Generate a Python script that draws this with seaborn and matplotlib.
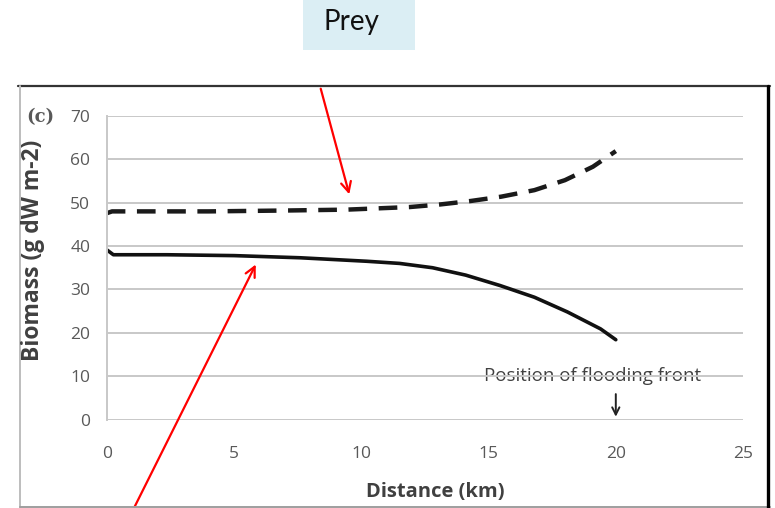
import numpy as np
import pandas as pd
import matplotlib
matplotlib.use("Agg")
import matplotlib.pyplot as plt
import seaborn as sns
from matplotlib.lines import Line2D
from matplotlib.patches import Rectangle, FancyArrowPatch

# ---- data ----
prey_x = [0, 0.2, 2, 4, 7, 9.4, 11.9, 13.1, 14.3, 15.5, 16.8, 18.0, 19.1, 20.0]
prey_y = [47.6, 48.0, 48.0, 48.0, 48.2, 48.4, 49.0, 49.6, 50.4, 51.4, 52.9, 55.2, 58.3, 61.9]
pred_x = [0, 0.25, 2.35, 5.0, 7.6, 10.2, 11.5, 12.8, 14.1, 15.45, 16.8, 18.1, 19.4, 20.0]
pred_y = [39.1, 38.0, 38.0, 37.8, 37.3, 36.5, 36.0, 35.0, 33.3, 30.9, 28.2, 24.8, 20.9, 18.4]
x_ticks = [0, 5, 10, 15, 20, 25]
y_ticks = [0, 10, 20, 30, 40, 50, 60, 70]

df = pd.concat([
    pd.DataFrame({"Distance": prey_x, "Biomass": prey_y, "series": "Prey"}),
    pd.DataFrame({"Distance": pred_x, "Biomass": pred_y, "series": "Predator"}),
])

sns.set_theme(style="white")
plt.rcParams["font.family"] = ["Open Sans", "DejaVu Sans"]

W, H = 775, 508
fig = plt.figure(figsize=(W / 100, H / 100), dpi=100)
ax = fig.add_axes([107 / W, 1 - 419.5 / H, (743 - 107) / W, (419.5 - 116) / H])

sns.lineplot(data=df, x="Distance", y="Biomass", style="series", hue="series",
             palette={"Prey": "#1a1a1a", "Predator": "#111111"},
             dashes={"Prey": (4.2, 2.6), "Predator": ""},
             size="series", sizes={"Prey": 3.2, "Predator": 2.6},
             legend=False, ax=ax, sort=False)
for ln in ax.get_lines():
    ln.set_solid_capstyle("round")
    ln.set_solid_joinstyle("round")
    ln.set_dash_capstyle("butt")

ax.set_xlim(0, 25)
ax.set_ylim(0, 70)
ax.set_xticks(x_ticks)
ax.set_yticks(y_ticks)
ax.yaxis.grid(True, color="#c8c8c8", lw=1.4)
ax.xaxis.grid(False)
ax.set_axisbelow(True)
for s in ["top", "right", "bottom"]:
    ax.spines[s].set_visible(False)
ax.spines["left"].set_color("#c8c8c8")
ax.spines["left"].set_linewidth(1.4)
ax.tick_params(axis="x", length=0, pad=19, labelsize=12.5, labelcolor="#595959")
ax.tick_params(axis="y", length=0, pad=12, labelsize=12.5, labelcolor="#595959")
ax.set_xlabel("")
ax.set_ylabel("")

# flooding-front annotation
ax.text(19.1, 10.0, "Position of flooding front", ha="center", va="center",
        fontsize=13.5, color="#404040", zorder=0)
ax.annotate("", xy=(20, 0.0), xytext=(20, 6.5),
            arrowprops=dict(arrowstyle="->", color="#222222", lw=1.4,
                            mutation_scale=13))

# axis titles and panel label
fig.text(435 / W, 1 - 492 / H, "Distance (km)", ha="center", va="center",
         fontsize=14.5, fontweight="bold", color="#404040")
fig.text(33 / W, 1 - 250 / H, "Biomass (g dW m-2)", ha="center", va="center",
         rotation=90, fontsize=16.5, fontweight="bold", color="#404040")
fig.text(40 / W, 1 - 117 / H, "(c)", ha="center", va="center",
         fontsize=13, fontweight="bold", color="#595959", family="DejaVu Serif")

# frame lines of the pasted figure
fig.add_artist(Line2D([18 / W, 770 / W], [1 - 86 / H, 1 - 86 / H], color="#333333", lw=1.6))
fig.add_artist(Line2D([20 / W, 20 / W], [1 - 86 / H, 0], color="#bdbdbd", lw=1.4))
fig.add_artist(Line2D([20 / W, 770 / W], [1 - 507 / H, 1 - 507 / H], color="#9e9e9e", lw=1.4))
fig.add_artist(Line2D([768 / W, 768 / W], [1 - 86 / H, 0], color="#000000", lw=2.4))

# Prey label box
fig.add_artist(Rectangle((303 / W, 1 - 50 / H), 112 / W, 50 / H,
                         transform=fig.transFigure, facecolor="#dbeef4", edgecolor="none"))
fig.text(351 / W, 1 - 22 / H, "Prey", ha="center", va="center", fontsize=20,
         color="#111111", family=["Lato", "DejaVu Sans"])

# red arrows
fig.add_artist(FancyArrowPatch(
    (320 / W, 1 - 86 / H), (350 / W, 1 - 197 / H), transform=fig.transFigure,
    arrowstyle="->", mutation_scale=18, color="#ff0000", lw=1.6))
fig.add_artist(FancyArrowPatch(
    (133 / W, 1 - 510 / H), (257 / W, 1 - 262 / H), transform=fig.transFigure,
    arrowstyle="->", mutation_scale=18, color="#ff0000", lw=1.6))

fig.savefig("out.png", dpi=100)
